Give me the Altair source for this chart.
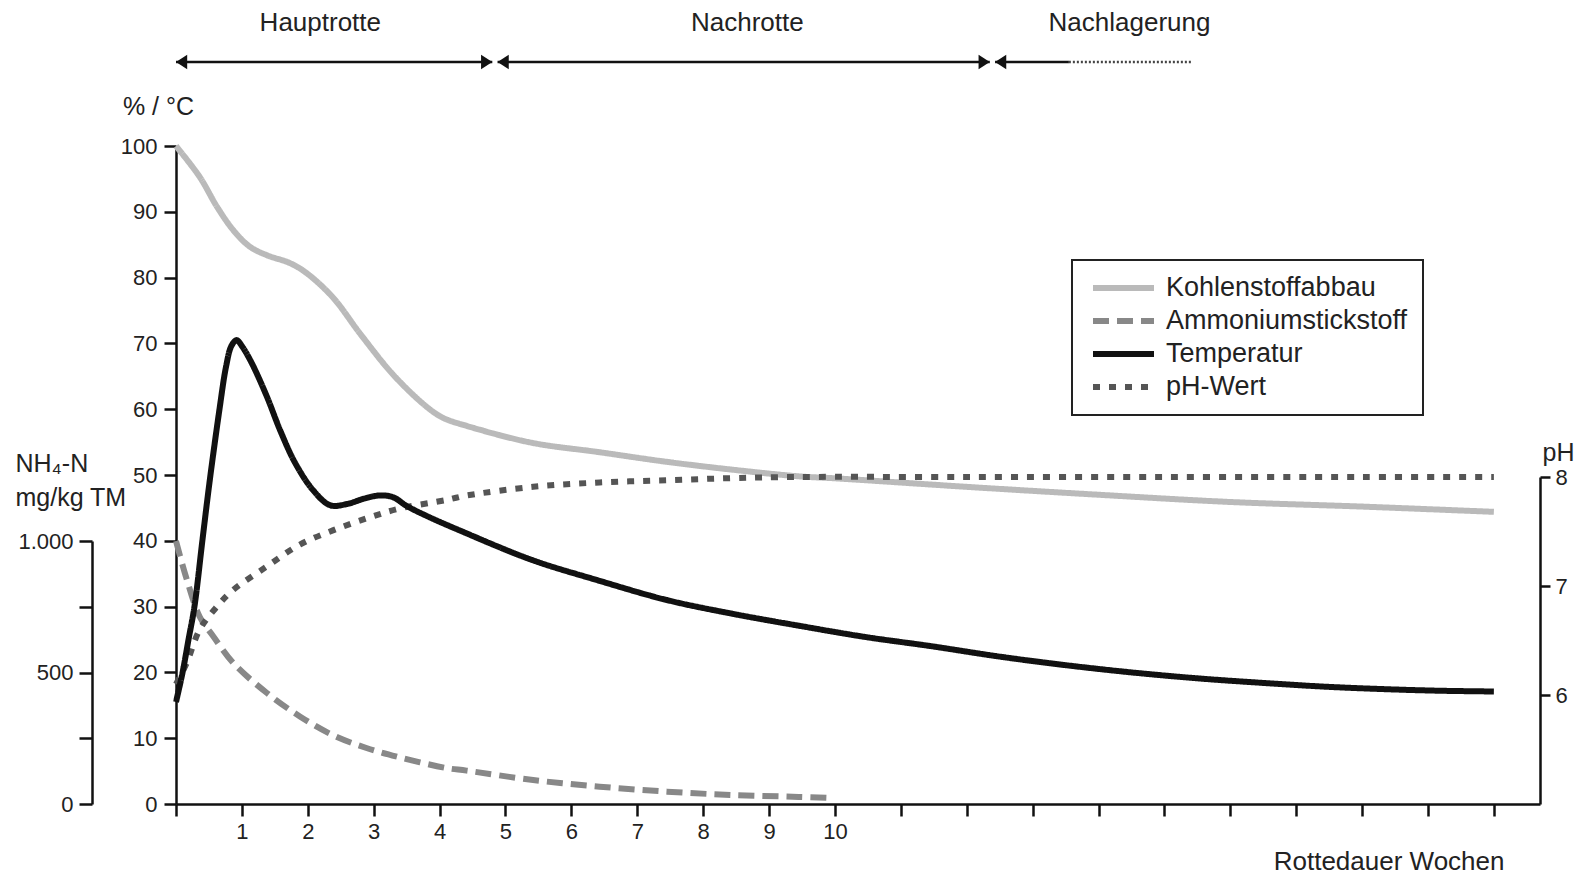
import altair as alt
import pandas as pd

FONT = "Liberation Sans"

# ---------------- data ----------------
series_names = ["Kohlenstoffabbau", "Ammoniumstickstoff", "Temperatur", "pH-Wert"]
series_colors = ["#bababa", "#888888", "#111111", "#555555"]
series_dashes = [[1, 0], [16, 8], [1, 0], [7, 9]]

# Kohlenstoffabbau (%)
c_weeks = [0, 0.36, 0.62, 0.87, 1.12, 1.38, 1.73, 1.98, 2.38, 2.8, 3.3, 3.8, 4.05, 4.4,
           5.4, 6.4, 7.45, 8.45, 9.45, 10.0, 12.0, 14.0, 16.0, 18.0, 20.0]
c_vals = [100, 95.3, 90.8, 87.2, 84.7, 83.4, 82.2, 80.7, 77.0, 71.4, 65.2, 60.4, 58.7, 57.5,
          54.9, 53.5, 52.0, 50.8, 49.8, 49.5, 48.2, 47.0, 45.9, 45.2, 44.4]

# Temperatur (°C)
t_weeks = [0, 0.1, 0.19, 0.28, 0.4, 0.51, 0.66, 0.76, 0.84, 0.92, 1.0, 1.15, 1.38, 1.58, 1.81,
           2.08, 2.34, 2.6, 2.85, 3.1, 3.3, 3.5, 3.8, 4.3, 5.4, 6.4, 7.45, 8.45, 9.45,
           10.45, 11.45, 12.5, 13.5, 14.5, 15.5, 16.5, 17.5, 18.5, 19.25, 20.0]
t_vals = [15.5, 20, 25, 30, 40, 49, 60, 66.5, 69.6, 70.5, 69.6, 67.0, 61.9, 56.8, 51.8,
          47.7, 45.4, 45.6, 46.4, 46.9, 46.6, 45.3, 43.8, 41.6, 37.1, 34.0, 31.0, 28.9, 27.1,
          25.4, 24.0, 22.4, 21.1, 20.0, 19.1, 18.4, 17.8, 17.4, 17.2, 17.1]

# Ammoniumstickstoff NH4-N (mg/kg TM)
n_weeks = [0, 0.15, 0.36, 0.57, 0.87, 1.38, 1.88, 2.38, 2.89, 3.4, 4.1, 4.41, 5.42,
           6.43, 7.45, 8.45, 9.45, 9.92]
n_vals = [1000, 865, 712, 636, 536, 422, 333, 262, 213, 177, 137, 127, 91,
          66, 47, 34, 27, 23]

# pH-Wert
p_weeks = [0, 0.16, 0.36, 0.62, 0.86, 1.38, 1.88, 2.38, 2.89, 3.39, 4.11, 4.41, 5.42,
           6.43, 7.45, 8.45, 9.45, 12.0, 15.0, 18.0, 20.0]
p_vals = [6.1, 6.29, 6.6, 6.81, 6.96, 7.18, 7.38, 7.51, 7.62, 7.71, 7.79, 7.83, 7.91,
          7.95, 7.97, 7.99, 8.0, 8.0, 8.0, 8.0, 8.0]

# phases (weeks)
phase_names = ["Hauptrotte", "Nachrotte", "Nachlagerung"]
phase_label_week = [2.19, 8.67, 14.47]
phase_start = [0, 4.88, 12.43]
phase_end = [4.80, 12.35, 13.55]
tail_start = [13.55]
tail_end = [15.41]
right_head_week = [4.80, 12.35]

x_ticks = list(range(0, 21))
main_ticks = list(range(0, 101, 10))
nh4_ticks = [0, 250, 500, 750, 1000]
ph_ticks = [6, 7, 8]

# ---------------- layout ----------------
W = 1364
H = 796

df_c = pd.DataFrame({"week": c_weeks, "value": c_vals, "series": series_names[0]})
df_n = pd.DataFrame({"week": n_weeks, "value": n_vals, "series": series_names[1]})
df_t = pd.DataFrame({"week": t_weeks, "value": t_vals, "series": series_names[2]})
df_p = pd.DataFrame({"week": p_weeks, "value": p_vals, "series": series_names[3]})
df_phase = pd.DataFrame({"name": phase_names, "pos": phase_label_week,
                         "start": phase_start, "end": phase_end})
df_tail = pd.DataFrame({"start": tail_start, "end": tail_end})
df_rhead = pd.DataFrame({"pos": right_head_week})

x_scale = alt.Scale(domain=[0, 20.7], nice=False, zero=False)
x_axis = alt.Axis(
    values=x_ticks, labelExpr="datum.value >= 1 && datum.value <= 10 ? datum.value : ''",
    title="Rottedauer Wochen", titleX=1328, titleY=65, titleAlign="right",
    titleBaseline="alphabetic", titleAngle=0, titleFontSize=26, titleFontWeight="normal",
    titleFont=FONT, titleColor="#222",
    tickSize=12, tickWidth=2.5, tickColor="#111", domainWidth=2.5, domainColor="#111",
    labelFontSize=22, labelFont=FONT, labelColor="#222", labelPadding=5,
    labelFlush=False, labelOverlap=False, grid=False,
)


def X(field):
    return alt.X(f"{field}:Q", scale=x_scale, axis=x_axis)


def make_legend():
    return alt.Legend(
        title=None, orient="none", legendX=896, legendY=252,
        symbolType="stroke", symbolSize=3721, symbolStrokeWidth=6,
        clipHeight=26, labelFontSize=27, labelFont=FONT, labelColor="#222",
        labelOffset=9, padding=15, rowPadding=6, symbolOffset=3, labelLimit=500,
        labelExpr="datum.label + '  '",
        strokeColor="#222",
    )


color_enc = alt.Color("series:N", scale=alt.Scale(domain=series_names, range=series_colors),
                      legend=make_legend())
dash_enc = alt.StrokeDash("series:N", scale=alt.Scale(domain=series_names, range=series_dashes),
                          legend=make_legend())

axis_common = dict(tickWidth=2.5, tickColor="#111", domainWidth=2.5, domainColor="#111",
                   labelFontSize=22, labelFont=FONT, labelColor="#222", grid=False,
                   titleFont=FONT, titleColor="#222", titleFontSize=25,
                   titleFontWeight="normal", titleAngle=0, labelOverlap=False)

main_axis = alt.Axis(orient="left", values=main_ticks, tickSize=12, labelPadding=7,
                     title="% / °C", titleX=-18, titleY=98, titleAlign="center",
                     titleBaseline="middle", **axis_common)
nh4_axis = alt.Axis(orient="left", offset=84, values=nh4_ticks, tickSize=13, labelPadding=6,
                    labelExpr="datum.value == 1000 ? '1.000' : (datum.value == 500 ? '500' : (datum.value == 0 ? '0' : ''))",
                    title=["NH₄-N", "mg/kg TM"], titleX=-77, titleY=443, titleAlign="left",
                    titleBaseline="top", titleLineHeight=34, **axis_common)
ph_axis = alt.Axis(orient="right", values=ph_ticks, tickSize=10, labelPadding=5,
                   title="pH", titleX=18, titleY=444, titleAlign="center",
                   titleBaseline="middle", **axis_common)

main_scale = alt.Scale(domain=[0, 100], range=[H, 138], nice=False, zero=False)
nh4_scale = alt.Scale(domain=[0, 1000], range=[H, 533], nice=False, zero=False)
ph_scale = alt.Scale(domain=[5, 8], range=[H, 469], nice=False, zero=False)

line_kw = dict(strokeWidth=6, interpolate="catmull-rom", strokeCap="butt")

kohlen = alt.Chart(df_c).mark_line(**line_kw).encode(
    x=X("week"), y=alt.Y("value:Q", scale=main_scale, axis=main_axis),
    color=color_enc, strokeDash=dash_enc)
ammon = alt.Chart(df_n).mark_line(**line_kw).encode(
    x=X("week"), y=alt.Y("value:Q", scale=nh4_scale, axis=nh4_axis),
    color=color_enc, strokeDash=dash_enc)
ph = alt.Chart(df_p).mark_line(**line_kw).encode(
    x=X("week"), y=alt.Y("value:Q", scale=ph_scale, axis=ph_axis),
    color=color_enc, strokeDash=dash_enc)
temp = alt.Chart(df_t).mark_line(**line_kw).encode(
    x=X("week"), y=alt.Y("value:Q", scale=main_scale, axis=None),
    color=color_enc, strokeDash=dash_enc)

# phase annotations at the top
phase_text = alt.Chart(df_phase).mark_text(
    font=FONT, fontSize=26, color="#222", align="center", baseline="middle"
).encode(x=X("pos"), y=alt.value(15), text="name:N")
phase_rule = alt.Chart(df_phase).mark_rule(strokeWidth=2.5, color="#111").encode(
    x=X("start"), x2="end", y=alt.value(54))
tail_rule = alt.Chart(df_tail).mark_rule(strokeWidth=2.5, color="#444", strokeDash=[2, 2]).encode(
    x=X("start"), x2="end", y=alt.value(54))
left_heads = alt.Chart(df_phase).mark_point(
    shape="M0,0L1.4,-0.9L1.4,0.9Z", size=256, filled=True, color="#111", opacity=1
).encode(x=X("start"), y=alt.value(54))
right_heads = alt.Chart(df_rhead).mark_point(
    shape="M0,0L-1.4,-0.9L-1.4,0.9Z", size=256, filled=True, color="#111", opacity=1
).encode(x=X("pos"), y=alt.value(54))

chart = alt.layer(
    kohlen, ammon, ph, temp, phase_rule, tail_rule, left_heads, right_heads, phase_text
).resolve_scale(
    y="independent"
).properties(
    width=W, height=H,
    autosize=alt.AutoSizeParams(type="none"),
    padding={"left": 168, "top": 0, "right": 35, "bottom": 72},
).configure(
    font=FONT, background="white"
).configure_view(
    stroke=None, strokeOpacity=0
).configure_legend(
    strokeWidth=2
)

chart.save("out.html", embed_options={"renderer": "svg", "actions": False})
